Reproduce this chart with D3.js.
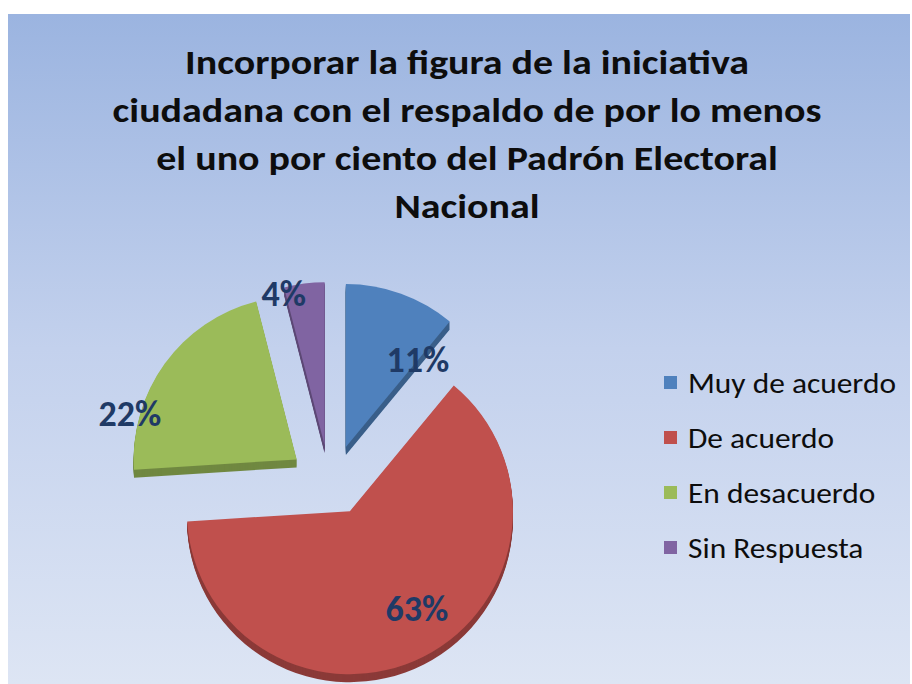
<!DOCTYPE html>
<html>
<head>
<meta charset="utf-8">
<script src="https://cdn.jsdelivr.net/npm/d3@7/dist/d3.min.js"></script>
<style>
  body { margin: 0; background: #fff; }
</style>
</head>
<body>
<div id="chart"></div>
<script>
// data
var categories = ["Muy de acuerdo", "De acuerdo", "En desacuerdo", "Sin Respuesta"];
var values = [11, 63, 22, 4];
var labels = ["11%", "63%", "22%", "4%"];
var titleLines = [
  "Incorporar la figura de la iniciativa",
  "ciudadana con el respaldo de por lo menos",
  "el uno por ciento del Padrón Electoral",
  "Nacional"
];

// styles / layout
var colors = ["#4f81bd", "#c0504d", "#9bbb59", "#8064a2"];
var width = 912, height = 684;
var cx = 334, cy = 480, radius = 163, explode = 35, depth = 8;
// extra horizontal nudge of slices (perspective of the original 3d chart)
var sliceNudge = [0, 0, -9, -5];
// label placement: [angle in degrees from 12 o'clock, distance from pie center]
var labelPlace = [[34.5, 148], [147, 152], [288.4, 215], [345, 194]];

var svg = d3.select("#chart")
  .append("svg")
    .attr("width", width)
    .attr("height", height);

// background gradient
var grad = svg.append("defs").append("linearGradient")
    .attr("id", "bg")
    .attr("x1", 0).attr("y1", 0).attr("x2", 0).attr("y2", 1);
grad.append("stop").attr("offset", "0%").attr("stop-color", "#9bb4e0");
grad.append("stop").attr("offset", "50%").attr("stop-color", "#c3d1ed");
grad.append("stop").attr("offset", "100%").attr("stop-color", "#dde5f4");

svg.append("rect")
    .attr("x", 8).attr("y", 14)
    .attr("width", 902).attr("height", 670)
    .attr("fill", "url(#bg)");

// title
var title = svg.append("g");
title.selectAll("text")
  .data(titleLines)
  .enter()
  .append("text")
    .attr("font-family", "Carlito, Lato, sans-serif")
    .attr("font-weight", "bold")
    .attr("font-size", 34)
    .attr("fill", "#0d0d0d")
    .attr("text-anchor", "middle")
    .text(function(d) { return d; });
// stretch title so the longest line matches the reference width
var tw = title.selectAll("text").nodes()[1].getComputedTextLength();
var tsx = 709 / tw;
title.selectAll("text")
    .attr("transform", function(d, i) { return "translate(467," + (74 + i * 48) + ") scale(" + tsx + ",1)"; });

// pie
var pie = d3.pie().sort(null).value(function(d) { return d; });
var arc = d3.arc().innerRadius(0).outerRadius(radius);
var arcs = pie(values);

var slices = svg.selectAll(".slice")
  .data(arcs)
  .enter()
  .append("g")
    .attr("class", "slice")
    .attr("transform", function(d, i) {
      var a = (d.startAngle + d.endAngle) / 2;
      return "translate(" + (cx + sliceNudge[i] + explode * Math.sin(a)) + "," + (cy - explode * Math.cos(a)) + ")";
    });

// side (depth) of the 3d slices
d3.range(depth, 0, -1).forEach(function(k) {
  slices.append("path")
      .attr("d", arc)
      .attr("transform", "translate(0," + k + ")")
      .attr("fill", function(d, i) { return d3.color(colors[i]).darker(0.9); });
});

// top faces
slices.append("path")
    .attr("d", arc)
    .attr("fill", function(d, i) { return colors[i]; });

// data labels
svg.selectAll(".lbl")
  .data(labels)
  .enter()
  .append("text")
    .attr("class", "lbl")
    .attr("x", function(d, i) { return cx + labelPlace[i][1] * Math.sin(labelPlace[i][0] * Math.PI / 180); })
    .attr("y", function(d, i) { return cy - labelPlace[i][1] * Math.cos(labelPlace[i][0] * Math.PI / 180); })
    .attr("dy", "0.38em")
    .attr("text-anchor", "middle")
    .attr("font-family", "Carlito, Lato, sans-serif")
    .attr("font-weight", "bold")
    .attr("font-size", 36)
    .attr("fill", "#1f3a66")
    .text(function(d) { return d; });

// legend
var legend = svg.selectAll(".legend")
  .data(categories)
  .enter()
  .append("g")
    .attr("class", "legend")
    .attr("transform", function(d, i) { return "translate(664," + (383 + i * 55) + ")"; });

legend.append("rect")
    .attr("x", 0).attr("y", -7)
    .attr("width", 13).attr("height", 13)
    .attr("fill", function(d, i) { return colors[i]; });

legend.append("text")
    .attr("font-family", "Carlito, Lato, sans-serif")
    .attr("font-size", 28)
    .attr("fill", "#0d0d0d")
    .text(function(d) { return d; });

var lw = legend.select("text").node().getComputedTextLength();
var lsx = 208 / lw;
legend.select("text")
    .attr("transform", "translate(24,10) scale(" + lsx + ",1)");
</script>
</body>
</html>
